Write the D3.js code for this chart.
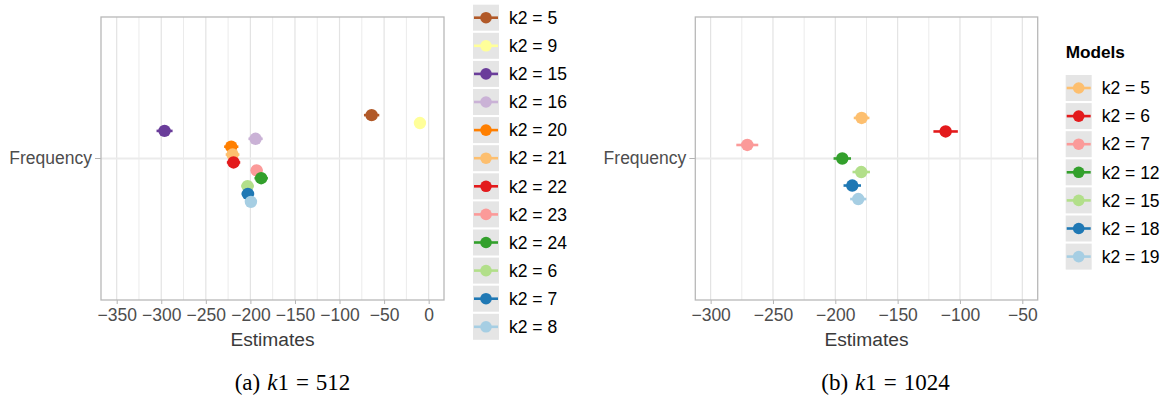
<!DOCTYPE html>
<html>
<head>
<meta charset="utf-8">
<script src="https://cdn.jsdelivr.net/npm/d3@7"></script>
<style>
  body { margin: 0; background: #fff; }
  svg { display: block; font-family: "Liberation Sans", Arial, sans-serif; }
</style>
</head>
<body>
<div class="content"></div>
<script>
// ---- data ----
const modelsA = ["k2 = 5", "k2 = 9", "k2 = 15", "k2 = 16", "k2 = 20", "k2 = 21",
                 "k2 = 22", "k2 = 23", "k2 = 24", "k2 = 6", "k2 = 7", "k2 = 8"];
const estimatesA = [-64, -9.8, -296.3, -194.2, -221.5, -220, -218.9, -193, -187.9, -203.2, -202.8, -199.4];
const errorsA = [8.6, 5, 9, 8, 8, 7.7, 7.5, 6.5, 7.5, 7, 7, 6];
const colorsA = ["#B15928", "#FFFF99", "#6A3D9A", "#CAB2D6", "#FF7F00", "#FDBF6F",
                 "#E31A1C", "#FB9A99", "#33A02C", "#B2DF8A", "#1F78B4", "#A6CEE3"];
const ticksA = [-350, -300, -250, -200, -150, -100, -50, 0];

const modelsB = ["k2 = 5", "k2 = 6", "k2 = 7", "k2 = 12", "k2 = 15", "k2 = 18", "k2 = 19"];
const estimatesB = [-178.9, -111.5, -270.6, -194.4, -179.2, -186.4, -181.6];
const errorsB = [6.3, 9.8, 8.8, 7, 7, 7, 6.5];
const colorsB = ["#FDBF6F", "#E31A1C", "#FB9A99", "#33A02C", "#B2DF8A", "#1F78B4", "#A6CEE3"];
const ticksB = [-300, -250, -200, -150, -100, -50];

const yCategory = ["Frequency"];

const svg = d3.select('.content')
  .append('svg')
  .attr('width', 1166)
  .attr('height', 401);

function drawPanel(p) {
  const x = d3.scaleLinear().domain(p.domain).range([p.left, p.right]);
  const y = d3.scaleBand().domain(yCategory).range([p.top, p.bottom]);
  const yc = y("Frequency") + y.bandwidth() / 2;
  const dodge = d3.scaleBand().domain(p.models).range([yc - 47.3, yc + 47.3]);

  const g = svg.append("g");

  // minor + major gridlines
  const minor = ticksMid(p.ticks).filter(v => v > p.domain[0] && v < p.domain[1]);
  g.selectAll(".minor").data(minor).enter().append("line")
    .attr("x1", d => x(d)).attr("x2", d => x(d))
    .attr("y1", p.top).attr("y2", p.bottom)
    .attr("stroke", "#EBEBEB").attr("stroke-width", 1);
  g.selectAll(".major").data(p.ticks).enter().append("line")
    .attr("x1", d => x(d)).attr("x2", d => x(d))
    .attr("y1", p.top).attr("y2", p.bottom)
    .attr("stroke", "#E3E3E3").attr("stroke-width", 1.2);
  g.append("line")
    .attr("x1", p.left).attr("x2", p.right)
    .attr("y1", yc).attr("y2", yc)
    .attr("stroke", "#EBEBEB").attr("stroke-width", 2.2);

  // x axis
  const xAxis = g.append("g")
    .attr("transform", `translate(0, ${p.bottom})`)
    .call(d3.axisBottom(x).tickValues(p.ticks).tickSize(4).tickPadding(4.5))
    .call(a => a.select('.domain').remove());
  xAxis.selectAll("line").attr("stroke", "#B3B3B3");
  xAxis.selectAll("text").attr("fill", "#4D4D4D").attr("font-size", 17.5)
    .attr("font-family", "Liberation Sans, Arial, sans-serif");

  // y axis
  const yAxis = g.append("g")
    .attr("transform", `translate(${p.left}, 0)`)
    .call(d3.axisLeft(y).tickSize(6).tickPadding(3))
    .call(a => a.select('.domain').remove());
  yAxis.selectAll("line").attr("stroke", "#B3B3B3");
  yAxis.selectAll("text").attr("fill", "#4D4D4D").attr("font-size", 17.5)
    .attr("font-family", "Liberation Sans, Arial, sans-serif");

  // axis title
  g.append("text")
    .attr("x", (p.left + p.right) / 2).attr("y", 346)
    .attr("text-anchor", "middle")
    .attr("font-size", 19.2).attr("fill", "#3A3A3A")
    .text("Estimates");

  // error bars + points
  const rows = p.models.map((m, i) => ({ m, est: p.est[i], err: p.err[i], col: p.colors[i] }));
  g.selectAll(".err").data(rows).enter().append("line")
    .attr("x1", d => x(d.est - d.err)).attr("x2", d => x(d.est + d.err))
    .attr("y1", d => dodge(d.m) + dodge.bandwidth() / 2)
    .attr("y2", d => dodge(d.m) + dodge.bandwidth() / 2)
    .attr("stroke", d => d.col).attr("stroke-width", 2.6);
  g.selectAll(".pt").data(rows).enter().append("circle")
    .attr("cx", d => x(d.est))
    .attr("cy", d => dodge(d.m) + dodge.bandwidth() / 2)
    .attr("r", 6.2)
    .attr("fill", d => d.col);

  // panel border
  g.append("rect")
    .attr("x", p.left).attr("y", p.top)
    .attr("width", p.right - p.left).attr("height", p.bottom - p.top)
    .attr("fill", "none").attr("stroke", "#B8B8B8").attr("stroke-width", 1.3);

  // legend
  const lg = svg.append("g").attr("transform", `translate(${p.legendX}, ${p.legendY})`);
  if (p.legendTitle) {
    lg.append("text").attr("x", 0).attr("y", -17.5)
      .attr("font-size", 17.2).attr("font-weight", "bold").attr("fill", "#000")
      .text(p.legendTitle);
  }
  const item = lg.selectAll(".key").data(rows).enter().append("g")
    .attr("transform", (d, i) => `translate(0, ${i * 28.1})`);
  item.append("rect").attr("width", 26).attr("height", 26).attr("fill", "#E5E5E5");
  item.append("line").attr("x1", 1).attr("x2", 25).attr("y1", 13).attr("y2", 13)
    .attr("stroke", d => d.col).attr("stroke-width", 2.6);
  item.append("circle").attr("cx", 13).attr("cy", 13).attr("r", 5.8).attr("fill", d => d.col);
  item.append("text").attr("x", 36).attr("y", 13).attr("dy", "0.36em")
    .attr("font-size", 17.5).attr("fill", "#000").text(d => d.m);

  // caption, LaTeX-like spacing round the "="
  const cap = svg.append("text")
    .attr("x", p.capX).attr("y", 390)
    .attr("text-anchor", "middle")
    .attr("font-family", "Liberation Serif, Times New Roman, serif")
    .attr("font-size", 23).attr("fill", "#000");
  cap.append("tspan").text(p.capPre);
  cap.append("tspan").attr("dx", 7).attr("font-style", "italic").text("k");
  cap.append("tspan").text("1");
  cap.append("tspan").attr("dx", 7).text("=");
  cap.append("tspan").attr("dx", 7).text(p.capVal);
}

function ticksMid(t) {
  const step = t[1] - t[0];
  const out = [];
  for (let v = t[0] - step / 2; v <= t[t.length - 1] + step / 2; v += step) out.push(v);
  return out;
}

drawPanel({
  models: modelsA, est: estimatesA, err: errorsA, colors: colorsA, ticks: ticksA,
  domain: [-367.6, 17.2], left: 101, right: 444, top: 17, bottom: 300,
  legendX: 473, legendY: 4.7, legendTitle: null,
  capX: 292.5, capPre: "(a)", capVal: "512"
});

drawPanel({
  models: modelsB, est: estimatesB, err: errorsB, colors: colorsB, ticks: ticksB,
  domain: [-312.3, -37.65], left: 695.3, right: 1037.7, top: 17, bottom: 300,
  legendX: 1065.7, legendY: 75, legendTitle: "Models",
  capX: 885.5, capPre: "(b)", capVal: "1024"
});
</script>
</body>
</html>
